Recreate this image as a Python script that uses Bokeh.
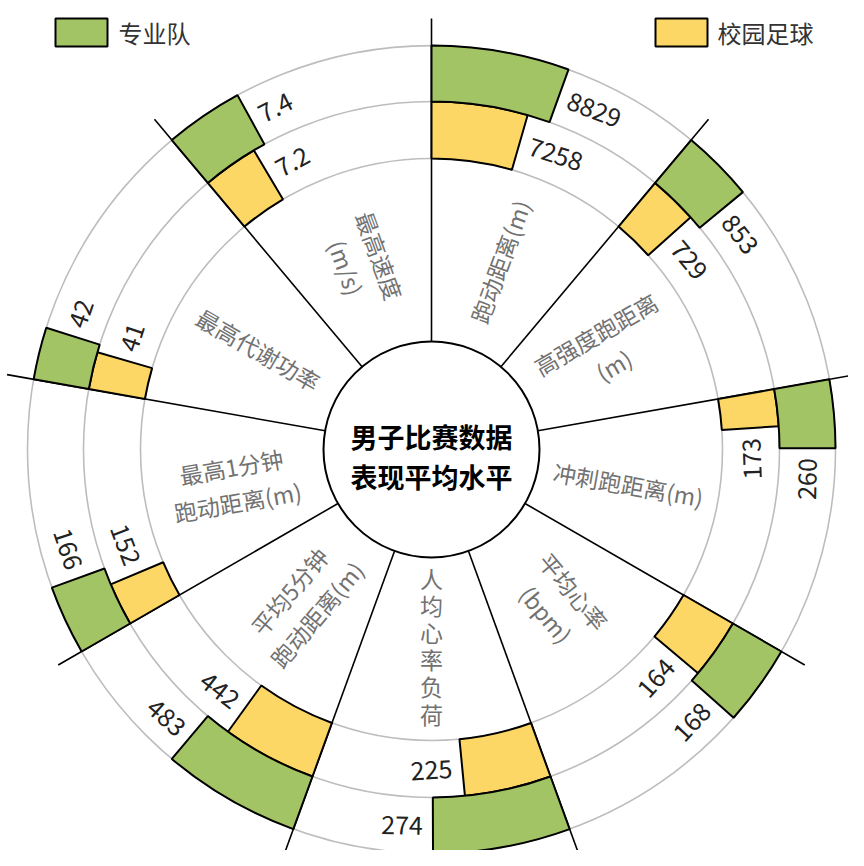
import math
from bokeh.plotting import figure
from bokeh.models import Range1d
from bokeh.core.properties import value
from bokeh.embed import file_html
from bokeh.resources import INLINE

# ---------------- data ----------------
categories = ["跑动距离(m)", "高强度跑距离\n(m)", "冲刺跑距离(m)", "平均心率\n(bpm)",
              "人\n均\n心\n率\n负\n荷", "平均5分钟\n跑动距离(m)", "最高1分钟\n跑动距离(m)",
              "最高代谢功率", "最高速度\n(m/s)"]
campus = [7258, 729, 173, 164, 225, 442, 152, 41, 7.2]      # 校园足球
pro = [8829, 853, 260, 168, 274, 483, 166, 42, 7.4]          # 专业队
# per-axis scale domain (value range mapped onto a sector's 40 degrees)
scale_lo = [600, 290, 26, 139, 91, 288, 116, 36.2, 6.27]
scale_hi = [17200, 2450, 980, 239, 461, 678, 316, 67, 10.27]
series_names = ["专业队", "校园足球"]
title_text = "男子比赛数据\n表现平均水平"

# ---------------- style / geometry ----------------
GREEN = "#A3C465"
YELLOW = "#FDD766"
RING_GRAY = "#BDBDBD"
CAT_GRAY = "#727272"
VAL_COLOR = "#222222"
FONT = value("Noto Sans CJK SC")

W, H = 848, 850
CX, CY = 431, -449          # centre (data units == screen pixels, y flipped)
R0, R1, R2, R3, RL = 108, 291, 348, 404, 431
SECTOR = 360 / len(categories)

p = figure(width=W, height=H, x_range=Range1d(0, W), y_range=Range1d(-H, 0),
           output_backend="svg", toolbar_location=None, min_border=0,
           x_axis_location=None, y_axis_location=None)
p.grid.visible = False
p.outline_line_color = None
p.background_fill_color = "white"


def pt(bearing, r):
    t = math.radians(bearing)
    return CX + r * math.sin(t), CY + r * math.cos(t)


# ring circles
p.circle(x=[CX] * 3, y=[CY] * 3, radius=[R1, R2, R3], fill_color=None,
         line_color=RING_GRAY, line_width=1.6)

# separator lines
x0s, y0s, x1s, y1s = [], [], [], []
for i in range(len(categories)):
    b = i * SECTOR
    a = pt(b, R0)
    c = pt(b, RL)
    x0s.append(a[0]); y0s.append(a[1]); x1s.append(c[0]); y1s.append(c[1])
p.segment(x0=x0s, y0=y0s, x1=x1s, y1=y1s, line_color="black", line_width=1.6)


def end_bearing(i, v):
    return i * SECTOR + SECTOR * (v - scale_lo[i]) / (scale_hi[i] - scale_lo[i])


# bars
for vals, rin, rout, col in [(campus, R1, R2, YELLOW), (pro, R2, R3, GREEN)]:
    starts, ends = [], []
    for i, v in enumerate(vals):
        b0 = i * SECTOR
        b1 = end_bearing(i, v)
        starts.append(math.radians(90 - b1))
        ends.append(math.radians(90 - b0))
    p.annular_wedge(x=[CX] * len(vals), y=[CY] * len(vals), inner_radius=rin, outer_radius=rout,
                    start_angle=starts, end_angle=ends, fill_color=col,
                    line_color="black", line_width=2)

# inner circle
p.circle(x=[CX], y=[CY], radius=R0, fill_color="white", line_color="black", line_width=2)

# value labels
for vals, rmid in [(campus, (R1 + R2) / 2), (pro, (R2 + R3) / 2)]:
    for flip in (False, True):
        xs, ys, txt, ang = [], [], [], []
        for i, v in enumerate(vals):
            mid = i * SECTOR + SECTOR / 2
            flipped = 90 < mid < 270
            if flipped != flip:
                continue
            th = end_bearing(i, v) + math.degrees(10 / rmid)
            x, y = pt(th, rmid)
            xs.append(x); ys.append(y)
            txt.append(f"{v:g}")
            ang.append(math.radians(180 - th if flipped else -th))
        p.text(x=xs, y=ys, text=txt, angle=ang, text_font=FONT, text_font_size="25px",
               text_color=VAL_COLOR, text_align="right" if flip else "left",
               text_baseline="middle")

# category labels
for stacked in (False, True):
    xs, ys, txt, ang = [], [], [], []
    for i, c in enumerate(categories):
        mid = i * SECTOR + SECTOR / 2
        is_stack = abs(mid - 180) < 1e-6
        if is_stack != stacked:
            continue
        x, y = pt(mid, 196 if is_stack else 200)
        xs.append(x); ys.append(y); txt.append(c)
        if is_stack:
            a = 0
        elif mid < 180:
            a = 90 - mid
        else:
            a = 270 - mid
        ang.append(math.radians(a))
    p.text(x=xs, y=ys, text=txt, angle=ang, text_font=FONT, text_font_size="23px",
           text_color=CAT_GRAY, text_align="center", text_baseline="middle",
           text_line_height=0.8 if stacked else 1.05)

# centre title
p.text(x=[CX], y=[CY - 7], text=[title_text], text_font=FONT, text_font_size="27px",
       text_font_style="bold", text_color="black", text_align="center",
       text_baseline="middle", text_line_height=1.05)

# legend
p.quad(left=[55, 655], right=[107, 707], top=[-18, -18], bottom=[-46, -46],
       fill_color=[GREEN, YELLOW], line_color="black", line_width=2)
p.text(x=[118, 717], y=[-32, -32], text=series_names, text_font=FONT, text_font_size="24px",
       text_color="#333333", text_align="left", text_baseline="middle")

open("out.html", "w").write(file_html(p, INLINE))
